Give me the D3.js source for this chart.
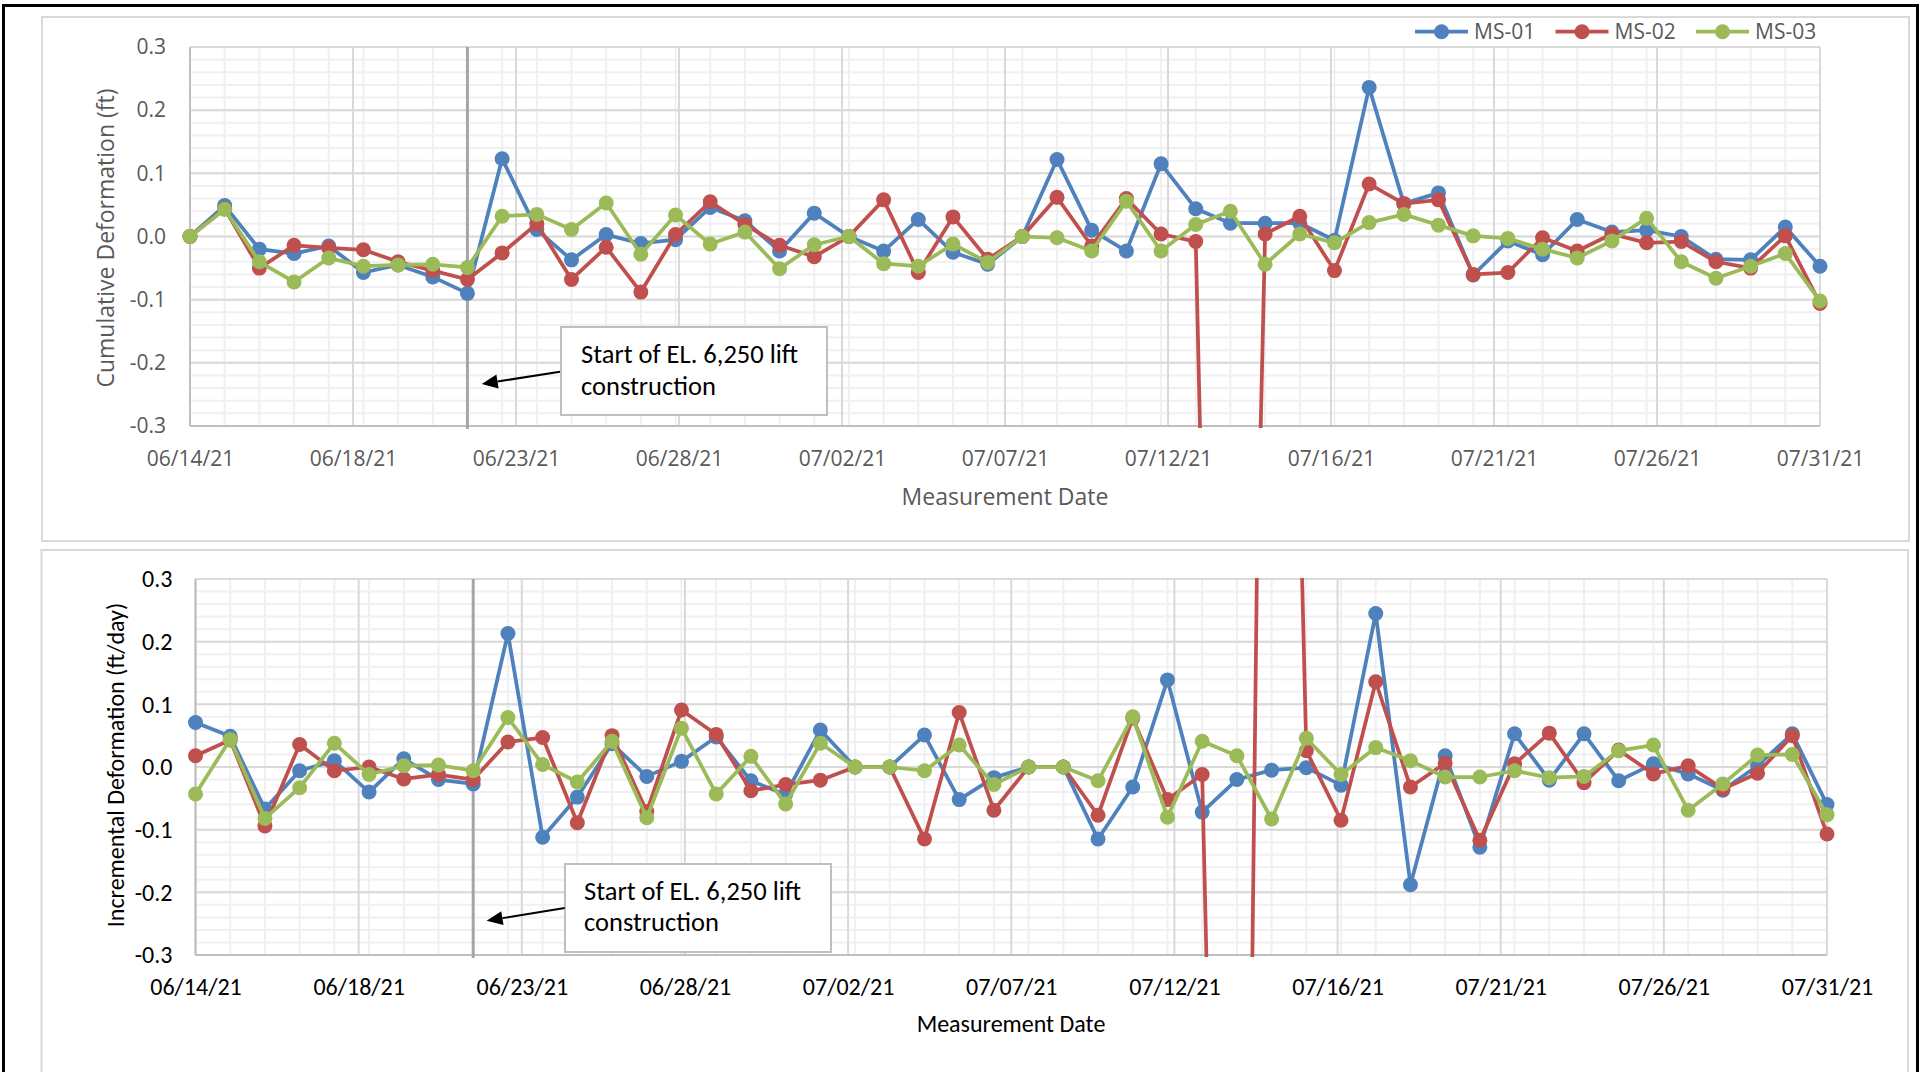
<!DOCTYPE html>
<html>
<head>
<meta charset="utf-8">
<script src="https://cdn.jsdelivr.net/npm/d3@7"></script>
<style>
  html, body { margin: 0; padding: 0; background: #fff; }
  svg { display: block; }
</style>
</head>
<body>
<svg id="chart" width="1921" height="1072"></svg>
<script>
// ---------------- DATA ----------------
const dates = [
  "2021-06-14","2021-06-15","2021-06-16","2021-06-17","2021-06-18","2021-06-19","2021-06-20","2021-06-21",
  "2021-06-22","2021-06-23","2021-06-24","2021-06-25","2021-06-26","2021-06-27","2021-06-28","2021-06-29",
  "2021-06-30","2021-07-01","2021-07-02","2021-07-03","2021-07-04","2021-07-05","2021-07-06","2021-07-07",
  "2021-07-08","2021-07-09","2021-07-10","2021-07-11","2021-07-12","2021-07-13","2021-07-14","2021-07-15",
  "2021-07-16","2021-07-17","2021-07-18","2021-07-19","2021-07-20","2021-07-21","2021-07-22","2021-07-23",
  "2021-07-24","2021-07-25","2021-07-26","2021-07-27","2021-07-28","2021-07-29","2021-07-30","2021-07-31"
];
const seriesNames = ["MS-01", "MS-02", "MS-03"];

// Cumulative deformation (ft)
const cumMS01 = [0, 0.049, -0.020, -0.027, -0.015, -0.057, -0.045, -0.064, -0.090, 0.123, 0.011, -0.037, 0.003, -0.011, -0.005, 0.046,
  0.025, -0.023, 0.037, 0, -0.023, 0.027, -0.025, -0.044, 0, 0.122, 0.010, -0.023, 0.115, 0.044, 0.021, 0.021,
  0.021, -0.006, 0.236, 0.052, 0.069, -0.061, -0.007, -0.029, 0.027, 0.007, 0.010, 0.000, -0.036, -0.037, 0.015, -0.047];
const cumMS02 = [0, 0.044, -0.050, -0.014, -0.018, -0.021, -0.040, -0.054, -0.068, -0.026, 0.020, -0.068, -0.017, -0.088, 0.003, 0.055,
  0.019, -0.014, -0.032, 0, 0.058, -0.057, 0.031, -0.036, 0, 0.062, -0.015, 0.060, 0.004, -0.008, -2.4, 0.004,
  0.032, -0.054, 0.083, 0.052, 0.058, -0.060, -0.057, -0.002, -0.023, 0.004, -0.010, -0.008, -0.040, -0.050, 0.001, -0.106];
const cumMS03 = [0, 0.043, -0.040, -0.072, -0.034, -0.047, -0.045, -0.044, -0.049, 0.032, 0.035, 0.011, 0.053, -0.028, 0.034, -0.012,
  0.007, -0.051, -0.013, 0, -0.043, -0.047, -0.012, -0.041, 0, -0.002, -0.023, 0.056, -0.023, 0.019, 0.040, -0.044,
  0.004, -0.010, 0.022, 0.035, 0.018, 0.001, -0.003, -0.020, -0.034, -0.007, 0.029, -0.040, -0.066, -0.047, -0.027, -0.102];

// Incremental deformation (ft/day)
const incMS01 = [0.071, 0.049, -0.067, -0.006, 0.010, -0.040, 0.013, -0.020, -0.027, 0.213, -0.112, -0.048, 0.037, -0.015, 0.009, 0.048,
  -0.022, -0.044, 0.059, 0, 0, 0.051, -0.052, -0.017, 0, 0, -0.115, -0.032, 0.139, -0.072, -0.020, -0.005,
  -0.001, -0.029, 0.245, -0.188, 0.018, -0.128, 0.053, -0.021, 0.053, -0.022, 0.005, -0.011, -0.037, 0.002, 0.053, -0.060];
const incMS02 = [0.018, 0.043, -0.094, 0.036, -0.006, 0.000, -0.019, -0.012, -0.020, 0.040, 0.047, -0.089, 0.050, -0.071, 0.091, 0.052,
  -0.038, -0.028, -0.021, 0, 0, -0.115, 0.087, -0.069, 0, 0, -0.077, 0.078, -0.052, -0.012, -2.4, 2.3,
  0.026, -0.085, 0.136, -0.032, 0.006, -0.117, 0.005, 0.054, -0.025, 0.027, -0.011, 0.002, -0.035, -0.010, 0.050, -0.107];
const incMS03 = [-0.043, 0.044, -0.082, -0.033, 0.038, -0.012, 0.002, 0.003, -0.006, 0.079, 0.004, -0.024, 0.041, -0.081, 0.062, -0.043,
  0.017, -0.059, 0.038, 0, 0, -0.006, 0.035, -0.028, 0, 0, -0.022, 0.080, -0.080, 0.041, 0.018, -0.083,
  0.046, -0.012, 0.031, 0.010, -0.016, -0.016, -0.006, -0.017, -0.015, 0.026, 0.035, -0.069, -0.027, 0.019, 0.020, -0.076];

const xTickLabels = ["06/14/21","06/18/21","06/23/21","06/28/21","07/02/21","07/07/21","07/12/21","07/16/21","07/21/21","07/26/21","07/31/21"];
const yTickValues = [-0.3, -0.2, -0.1, 0.0, 0.1, 0.2, 0.3];
const yTickLabels = ["-0.3","-0.2","-0.1","0.0","0.1","0.2","0.3"];
const annotationDate = "2021-06-22";
const annotationLines = ["Start of EL. 6,250 lift", "construction"];

// ---------------- STYLE ----------------
const colors = ["#4F81BD", "#C0504D", "#9BBB59"];
const parse = d3.timeParse("%Y-%m-%d");
const dateObjs = dates.map(parse);
const start = dateObjs[0], end = dateObjs[dateObjs.length - 1];
const span = (end - start);
const xTickVals = d3.range(xTickLabels.length).map(k => new Date(+start + span * k / (xTickLabels.length - 1)));

const svg = d3.select("#chart");
svg.append("rect").attr("width", 1921).attr("height", 1072).attr("fill", "#fff");

function drawChart(cfg) {
  const g = svg.append("g");
  g.append("rect").attr("x", cfg.box[0]).attr("y", cfg.box[1]).attr("width", cfg.box[2]).attr("height", cfg.box[3])
    .attr("fill", "#fff").attr("stroke", "#D9D9D9").attr("stroke-width", 2);

  const x = d3.scaleTime().domain([start, end]).range([cfg.x0, cfg.x1]);
  const y = d3.scaleLinear().domain([-0.3, 0.3]).range([cfg.y1, cfg.y0]);

  // minor grid
  const minorY = d3.range(-15, 16).map(k => k * 0.02);
  g.append("g").selectAll("line").data(minorY).join("line")
    .attr("x1", cfg.x0).attr("x2", cfg.x1).attr("y1", d => y(d)).attr("y2", d => y(d))
    .attr("stroke", "#F0F0F0").attr("stroke-width", 2);
  g.append("g").selectAll("line").data(dateObjs).join("line")
    .attr("x1", d => x(d)).attr("x2", d => x(d)).attr("y1", cfg.y0).attr("y2", cfg.y1)
    .attr("stroke", "#F0F0F0").attr("stroke-width", 2);
  // major grid
  g.append("g").selectAll("line").data(yTickValues).join("line")
    .attr("x1", cfg.x0).attr("x2", cfg.x1).attr("y1", d => y(d)).attr("y2", d => y(d))
    .attr("stroke", "#D9D9D9").attr("stroke-width", 2);
  g.append("g").selectAll("line").data(xTickVals).join("line")
    .attr("x1", d => x(d)).attr("x2", d => x(d)).attr("y1", cfg.y0).attr("y2", cfg.y1)
    .attr("stroke", "#D9D9D9").attr("stroke-width", 2);
  // axis lines
  g.append("line").attr("x1", cfg.x0).attr("x2", cfg.x1).attr("y1", cfg.y1).attr("y2", cfg.y1)
    .attr("stroke", "#BFBFBF").attr("stroke-width", 2);
  g.append("line").attr("x1", cfg.x0).attr("x2", cfg.x0).attr("y1", cfg.y0).attr("y2", cfg.y1)
    .attr("stroke", "#BFBFBF").attr("stroke-width", 2);

  // axes labels
  const yAxis = d3.axisLeft(y).tickValues(yTickValues).tickFormat((d, i) => yTickLabels[i]).tickSize(0).tickPadding(cfg.yPad);
  const ya = g.append("g").attr("transform", `translate(${cfg.x0},0)`).call(yAxis);
  ya.select(".domain").remove();
  ya.selectAll("text").attr("font-family", cfg.font).attr("font-size", cfg.tickSize).attr("fill", cfg.textColor);

  const xAxis = d3.axisBottom(x).tickValues(xTickVals).tickFormat((d, i) => xTickLabels[i]).tickSize(0).tickPadding(cfg.xPad);
  const xa = g.append("g").attr("transform", `translate(0,${cfg.y1})`).call(xAxis);
  xa.select(".domain").remove();
  xa.selectAll("text").attr("font-family", cfg.font).attr("font-size", cfg.tickSize).attr("fill", cfg.textColor);

  // titles
  g.append("text").attr("transform", `translate(${cfg.yTitleX},${cfg.yTitleY}) rotate(-90)`)
    .attr("text-anchor", "middle").attr("font-family", cfg.font).attr("font-size", cfg.titleSize)
    .attr("fill", cfg.textColor).text(cfg.yTitle);
  g.append("text").attr("x", cfg.xTitleX).attr("y", cfg.xTitleY)
    .attr("text-anchor", "middle").attr("font-family", cfg.font).attr("font-size", cfg.titleSize)
    .attr("fill", cfg.textColor).text("Measurement Date");

  // annotation vertical line
  const ax = x(parse(annotationDate));
  g.append("line").attr("x1", ax).attr("x2", ax).attr("y1", cfg.y0).attr("y2", cfg.y1 + 3)
    .attr("stroke", "#A6A6A6").attr("stroke-width", 3);

  // series
  const clipId = "clip" + cfg.id;
  svg.append("clipPath").attr("id", clipId).append("rect")
    .attr("x", cfg.x0 - 20).attr("y", cfg.y0 - 1).attr("width", cfg.x1 - cfg.x0 + 40).attr("height", cfg.y1 - cfg.y0 + 3);
  const sg = g.append("g").attr("clip-path", `url(#${clipId})`);
  const line = d3.line().x((d, i) => x(dateObjs[i])).y(d => y(d));
  cfg.series.forEach((vals, si) => {
    sg.append("path").datum(vals).attr("d", line).attr("fill", "none")
      .attr("stroke", colors[si]).attr("stroke-width", 3.75).attr("stroke-linejoin", "round");
    sg.append("g").selectAll("circle").data(vals).join("circle")
      .attr("cx", (d, i) => x(dateObjs[i])).attr("cy", d => y(d)).attr("r", 7.5)
      .attr("fill", colors[si]);
  });

  // annotation box
  const b = cfg.annBox;
  g.append("rect").attr("x", b[0]).attr("y", b[1]).attr("width", b[2]).attr("height", b[3])
    .attr("fill", "#fff").attr("stroke", "#BFBFBF").attr("stroke-width", 2);
  annotationLines.forEach((t, i) => {
    g.append("text").attr("x", cfg.annText[0]).attr("y", cfg.annText[1] + i * cfg.annText[2])
      .attr("font-family", cfg.annFont).attr("font-size", cfg.annSize).attr("fill", "#000").text(t);
  });
  // arrow
  const a = cfg.arrow;
  const ang = Math.atan2(a[3] - a[1], a[2] - a[0]);
  const hl = 16, hw = 7;
  const bx = a[2] - hl * Math.cos(ang), by = a[3] - hl * Math.sin(ang);
  g.append("line").attr("x1", a[0]).attr("y1", a[1]).attr("x2", bx).attr("y2", by)
    .attr("stroke", "#000").attr("stroke-width", 2);
  g.append("path").attr("d", `M${a[2]},${a[3]} L${bx + hw * Math.sin(ang)},${by - hw * Math.cos(ang)} L${bx - hw * Math.sin(ang)},${by + hw * Math.cos(ang)} Z`)
    .attr("fill", "#000");
}

drawChart({
  id: "top", box: [42, 17, 1867, 524],
  x0: 190, x1: 1820, y0: 47, y1: 426,
  series: [cumMS01, cumMS02, cumMS03],
  font: "'Open Sans', 'Noto Sans', sans-serif", textColor: "#595959",
  tickSize: 21, titleSize: 23, yPad: 24, xPad: 25,
  yTitle: "Cumulative Deformation (ft)", yTitleX: 114, yTitleY: 238,
  xTitleX: 1005, xTitleY: 505,
  annBox: [561, 327, 266, 88], annText: [581, 363, 32], annFont: "Carlito, Calibri, Lato, sans-serif", annSize: 26.5,
  arrow: [560, 371.7, 481.7, 384]
});

drawChart({
  id: "bot", box: [41.5, 550, 1866.5, 560],
  x0: 195.5, x1: 1827, y0: 579, y1: 955,
  series: [incMS01, incMS02, incMS03],
  font: "Carlito, Calibri, Lato, sans-serif", textColor: "#000",
  tickSize: 24, titleSize: 24, yPad: 23, xPad: 23,
  yTitle: "Incremental Deformation (ft/day)", yTitleX: 124, yTitleY: 765,
  xTitleX: 1011, xTitleY: 1032,
  annBox: [565, 864, 266, 88], annText: [584, 900, 31], annFont: "Carlito, Calibri, Lato, sans-serif", annSize: 26.5,
  arrow: [564.7, 908, 486.6, 920.7]
});

// legend (top chart)
const legend = svg.append("g");
seriesNames.forEach((name, i) => {
  const lx = 1415 + i * 140.5, ly = 31.7;
  legend.append("line").attr("x1", lx).attr("x2", lx + 53).attr("y1", ly).attr("y2", ly)
    .attr("stroke", colors[i]).attr("stroke-width", 3.75);
  legend.append("circle").attr("cx", lx + 26.5).attr("cy", ly).attr("r", 7.5).attr("fill", colors[i]);
  legend.append("text").attr("x", lx + 59).attr("y", ly + 7.5)
    .attr("font-family", "'Open Sans', 'Noto Sans', sans-serif").attr("font-size", 21)
    .attr("fill", "#595959").text(name);
});

// black outer frame
svg.append("rect").attr("x", 3.5).attr("y", 5.5).attr("width", 1914).attr("height", 1080)
  .attr("fill", "none").attr("stroke", "#000").attr("stroke-width", 3);
</script>
</body>
</html>
